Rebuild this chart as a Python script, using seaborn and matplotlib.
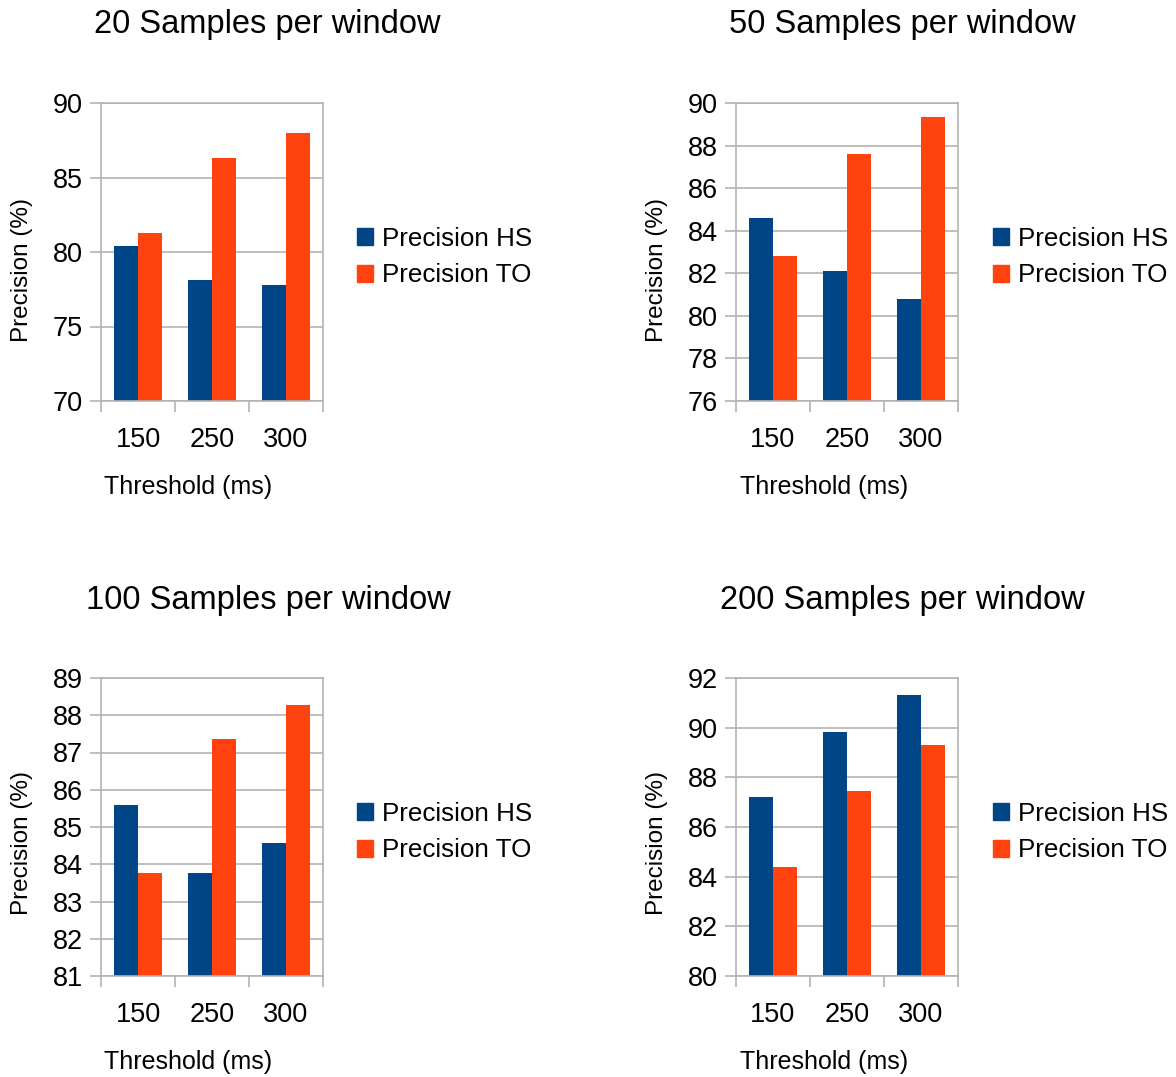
import matplotlib
matplotlib.use("Agg")
import matplotlib.pyplot as plt
from matplotlib.ticker import FixedLocator, MultipleLocator
import pandas as pd
import seaborn as sns

sns.set_theme(style="white")
plt.rcParams["font.family"] = ["Liberation Sans", "DejaVu Sans"]
plt.rcParams["text.color"] = "black"

thresholds = ["150", "250", "300"]
series_names = ["Precision HS", "Precision TO"]
colors = ["#004586", "#ff420e"]

# Precision (%) per threshold, one list per window size
hs_20 = [80.4, 78.1, 77.8]
to_20 = [81.3, 86.3, 88.0]
hs_50 = [84.6, 82.1, 80.8]
to_50 = [82.8, 87.6, 89.35]
hs_100 = [85.6, 83.77, 84.58]
to_100 = [83.77, 87.37, 88.28]
hs_200 = [87.2, 89.84, 91.33]
to_200 = [84.4, 87.46, 89.31]

titles = ["20 Samples per window", "50 Samples per window",
          "100 Samples per window", "200 Samples per window"]
y_ranges = [(70, 90, 5), (76, 90, 2), (81, 89, 1), (80, 92, 2)]
panels = [(hs_20, to_20), (hs_50, to_50), (hs_100, to_100), (hs_200, to_200)]

W, H = 1176, 1077
fig = plt.figure(figsize=(W / 100, H / 100), dpi=100)

grid_col = "#b3b3b3"
# pixel boxes: left, top, right, bottom
boxes = [(101, 103, 323, 401), (736, 103, 958, 401),
         (101, 678, 323, 976), (736, 678, 958, 976)]
title_pos = [(267, 25), (902, 25), (268, 600), (902, 600)]
ylabel_pos = [(22, 270), (657, 270), (22, 843), (657, 843)]
xlabel_pos = [(188, 487), (824, 487), (188, 1062), (824, 1062)]
legend_pos = [(357, 227), (993, 227), (357, 802), (993, 802)]

for i, ((hs, to), (l, t, r, b)) in enumerate(zip(panels, boxes)):
    ax = fig.add_axes([l / W, (H - b) / H, (r - l) / W, (b - t) / H])
    df = pd.DataFrame({
        "Threshold": thresholds * 2,
        "Precision": hs + to,
        "Series": [series_names[0]] * 3 + [series_names[1]] * 3,
    })
    sns.barplot(data=df, x="Threshold", y="Precision", hue="Series",
                order=thresholds, hue_order=series_names, palette=colors,
                width=0.66, saturation=1, linewidth=0, ax=ax, legend=False)
    lo, hi, step = y_ranges[i]
    ax.set_ylim(lo, hi)
    ax.set_xlim(-0.5, 2.5)
    ax.yaxis.set_major_locator(MultipleLocator(step))
    ax.xaxis.set_minor_locator(FixedLocator([-0.5, 0.5, 1.5, 2.5]))
    ax.set_axisbelow(True)
    ax.grid(axis="y", color=grid_col, linewidth=1.2)
    ax.grid(axis="x", visible=False)
    for sp in ax.spines.values():
        sp.set_color(grid_col)
        sp.set_linewidth(1.2)
    ax.tick_params(axis="y", which="major", left=True, length=8, width=1.2,
                   color=grid_col, labelsize=19.5, pad=5, labelcolor="black")
    ax.tick_params(axis="x", which="major", bottom=False, length=0,
                   labelsize=19.5, pad=19, labelcolor="black")
    ax.tick_params(axis="x", which="minor", bottom=True, length=8, width=1.2,
                   color=grid_col)
    ax.set_xlabel("")
    ax.set_ylabel("")

    tx, ty = title_pos[i]
    fig.text(tx / W, 1 - ty / H, titles[i], fontsize=23.5,
             ha="center", va="center")
    yx, yy = ylabel_pos[i]
    fig.text(yx / W, 1 - yy / H, "Precision (%)", fontsize=17.5,
             rotation=90, ha="center", va="center")
    xx, xy = xlabel_pos[i]
    fig.text(xx / W, 1 - xy / H, "Threshold (ms)", fontsize=18,
             ha="center", va="center")

    handles = [plt.Rectangle((0, 0), 1, 1, color=c) for c in colors]
    lx, ly = legend_pos[i]
    fig.legend(handles, series_names, loc="upper left",
               bbox_to_anchor=(lx / W, 1 - ly / H), frameon=False,
               fontsize=18.7, handlelength=0.62, handleheight=0.62,
               handletextpad=0.35, labelspacing=0.48, borderpad=0,
               borderaxespad=0)

fig.savefig("out.png", dpi=100, facecolor="white")
